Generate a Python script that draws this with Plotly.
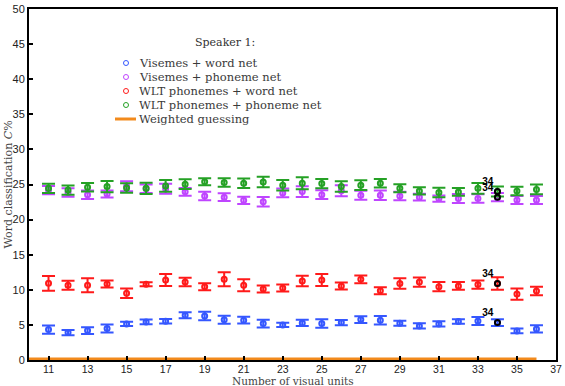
import plotly.graph_objects as go

# Number of visual units on the x axis
units = list(range(11, 37))

# Word classification C% (mean) and error bar half-widths
visemes_word = [4.33, 3.90, 4.19, 4.47, 5.14, 5.43, 5.52, 6.38, 6.26, 5.72, 5.67, 5.19, 5.00,
                5.28, 5.19, 5.33, 5.76, 5.67, 5.24, 4.86, 5.14, 5.48, 5.57, 5.33, 4.14, 4.43]
visemes_word_err = [0.60, 0.36, 0.48, 0.57, 0.31, 0.33, 0.33, 0.43, 0.60, 0.57, 0.48, 0.55, 0.29,
                    0.45, 0.60, 0.38, 0.48, 0.60, 0.36, 0.36, 0.38, 0.33, 0.57, 0.48, 0.33, 0.53]

visemes_phon = [24.20, 23.85, 23.55, 23.65, 24.75, 24.40, 24.40, 23.95, 23.36, 23.20, 22.74, 22.55, 23.80,
                23.99, 23.55, 24.10, 23.46, 23.46, 23.36, 23.20, 23.00, 23.00, 23.00, 23.20, 22.80, 22.80]
visemes_phon_err = [0.60, 0.60, 0.60, 0.50, 0.70, 0.60, 0.70, 0.55, 0.60, 0.55, 0.50, 0.67, 0.62,
                    0.76, 0.62, 0.79, 0.64, 0.67, 0.60, 0.48, 0.45, 0.64, 0.60, 0.60, 0.57, 0.57]

wlt_word = [10.93, 10.64, 10.64, 10.83, 9.50, 10.79, 11.40, 11.10, 10.45, 11.50, 10.64, 10.10, 10.26,
            11.26, 11.40, 10.55, 11.50, 9.88, 10.90, 11.10, 10.45, 10.55, 10.74, 10.90, 9.40, 9.83]
wlt_word_err = [1.05, 0.65, 1.00, 0.50, 0.67, 0.30, 0.85, 0.60, 0.50, 1.00, 0.85, 0.50, 0.50,
                0.75, 0.85, 0.50, 0.55, 0.50, 0.75, 0.65, 0.65, 0.55, 0.60, 0.90, 0.80, 0.60]

wlt_phon = [24.45, 24.20, 24.60, 24.70, 24.50, 24.45, 24.80, 25.05, 25.40, 25.28, 25.18, 25.37, 24.90,
            25.18, 25.13, 24.70, 24.90, 25.18, 24.45, 24.08, 23.85, 23.94, 24.45, 24.00, 24.08, 24.30]
wlt_phon_err = [0.67, 0.67, 0.60, 0.80, 0.67, 0.80, 0.85, 0.70, 0.50, 0.60, 0.67, 0.75, 0.75,
                0.85, 0.67, 0.75, 0.70, 0.60, 0.57, 0.52, 0.67, 0.55, 0.75, 0.70, 0.60, 0.70]

# Weighted guessing baseline
guess_x = [10, 36]
guess_y = [0.15, 0.15]

# Highlighted number of units
best_units = 34

serif = "DejaVu Serif"
sans = "Liberation Sans"
guess_col = "#f28a1c"

series = [
    ("Visemes + word net", visemes_word, visemes_word_err, "#3557ff"),
    ("Visemes + phoneme net", visemes_phon, visemes_phon_err, "#bf45ff"),
    ("WLT phonemes + word net", wlt_word, wlt_word_err, "#ff1a1a"),
    ("WLT phonemes + phoneme net", wlt_phon, wlt_phon_err, "#25a125"),
]

fig = go.Figure()

for name, vals, errs, col in series:
    fig.add_trace(go.Scatter(
        x=units, y=vals, name=name, mode="markers",
        marker=dict(symbol="circle-open", size=5, color=col, line=dict(width=2, color=col)),
        error_y=dict(type="data", array=errs, visible=True, color=col, thickness=2, width=6.5),
    ))

fig.add_trace(go.Scatter(
    x=guess_x, y=guess_y, name="Weighted guessing", mode="lines",
    line=dict(color=guess_col, width=3),
))

# black markers + labels at the highlighted unit count
idx = units.index(best_units)
fig.add_trace(go.Scatter(
    x=[best_units] * 4,
    y=[s[1][idx] for s in series],
    mode="markers+text", text=[str(best_units)] * 4, textposition="top left",
    textfont=dict(family=sans, size=10, color="black", weight="bold"),
    marker=dict(symbol="circle-open", size=5, color="black", line=dict(width=2, color="black")),
    showlegend=False,
))

# hand-made legend (matlab style: tight rows)
L, T, W, H = 29, 9, 527, 351  # plot area in px
px = lambda x: (x - L) / W
py = lambda y: (T + H - y) / H

shapes, annos = [], []
annos.append(dict(x=px(225), y=py(43), xref="paper", yref="paper", text="Speaker 1:",
                  showarrow=False, xanchor="center", yanchor="middle",
                  font=dict(family=serif, size=11, color="#333")))
labels = [s[0] for s in series] + ["Weighted guessing"]
colors = [s[3] for s in series] + [guess_col]
for i, (lab, col) in enumerate(zip(labels, colors)):
    yy = py(63 + 14 * i)
    annos.append(dict(x=px(137), y=yy, xref="paper", yref="paper", text=lab, showarrow=False,
                      xanchor="left", yanchor="middle", font=dict(family=serif, size=11.5, color="#3a3a3a")))
    if i < 4:
        shapes.append(dict(type="circle", xref="paper", yref="paper", xsizemode="pixel", ysizemode="pixel",
                           xanchor=px(126), yanchor=yy, x0=-2.5, x1=2.5, y0=-2.5, y1=2.5,
                           line=dict(color=col, width=1)))
    else:
        shapes.append(dict(type="line", xref="paper", yref="paper", x0=px(115), x1=px(136), y0=yy, y1=yy,
                           line=dict(color=col, width=3)))

annos.append(dict(x=0.5, y=py(380.5), xref="paper", yref="paper", text="Number of visual units",
                  showarrow=False, xanchor="center", yanchor="middle",
                  font=dict(family=serif, size=10.5, color="#444")))
annos.append(dict(x=px(8), y=0.5, xref="paper", yref="paper", text="Word classification <i>C</i>%",
                  showarrow=False, xanchor="center", yanchor="middle", textangle=-90,
                  font=dict(family=serif, size=11, color="#444")))

fig.update_layout(
    width=565, height=386,
    paper_bgcolor="white", plot_bgcolor="white",
    margin=dict(l=29, r=9, t=9, b=26),
    showlegend=False,
    shapes=shapes, annotations=annos,
    xaxis=dict(
        range=[10, 37], tickvals=list(range(11, 38, 2)),
        showline=True, linecolor="black", linewidth=2, mirror=True,
        ticks="inside", ticklen=4, tickwidth=2, tickcolor="black",
        showgrid=False, zeroline=False, automargin=False, ticklabelstandoff=-2,
        tickfont=dict(family=sans, size=10.5, color="#222"),
    ),
    yaxis=dict(
        range=[0, 50], tickvals=list(range(0, 51, 5)),
        showline=True, linecolor="black", linewidth=2, mirror=True,
        ticks="inside", ticklen=4, tickwidth=2, tickcolor="black",
        showgrid=False, zeroline=False, automargin=False,
        tickfont=dict(family=sans, size=11, color="#222"),
    ),
)

# the page body has a default 8px margin; drop it so the figure sits at the corner
fig.write_html("out.html", config={"displayModeBar": False},
               post_script="document.body.style.margin='0px';")
